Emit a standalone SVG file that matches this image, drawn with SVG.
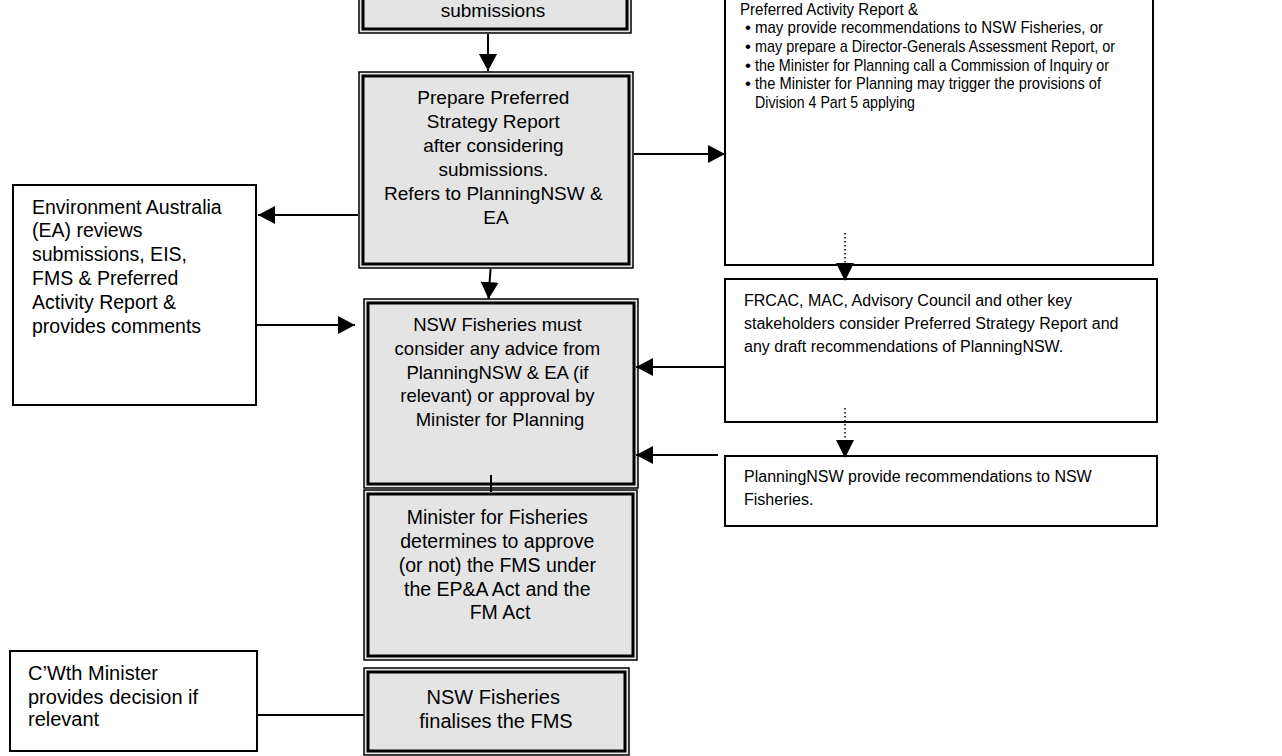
<svg xmlns="http://www.w3.org/2000/svg" width="1282" height="756" viewBox="0 0 1282 756">
<style>
  text { font-family: "Liberation Sans", Arial, sans-serif; fill: #000; }
  .outer { fill: #e4e4e4; stroke: #000; stroke-width: 1.5; }
  .inner { fill: none; stroke: #000; stroke-width: 3; }
  .plain { fill: #fff; stroke: #000; stroke-width: 2; }
  .c { text-anchor: middle; }
  .conn { stroke: #000; stroke-width: 2; fill: none; }
  .dot { stroke: #000; stroke-width: 1.5; fill: none; stroke-dasharray: 1.5 2.5; }
</style>
<defs>
  <marker id="ah" markerUnits="userSpaceOnUse" markerWidth="17" markerHeight="18" refX="17" refY="9" orient="auto">
    <path d="M0,0 L17,9 L0,18 Z" fill="#000"/>
  </marker>
</defs>

<g id="node-top">
  <rect class="outer" x="359" y="-10" width="272" height="43"/>
  <rect class="inner" x="363" y="-6" width="264" height="35"/>
  <text class="c" x="493" y="17" font-size="19">submissions</text>
</g>

<g id="node-prepare">
  <rect class="outer" x="359" y="72" width="274" height="196"/>
  <rect class="inner" x="363" y="76" width="266" height="188"/>
  <text class="c" font-size="19">
    <tspan x="496" y="104">Prepare Preferred</tspan>
    <tspan x="496" y="128">Strategy Report</tspan>
    <tspan x="496" y="152">after considering</tspan>
    <tspan x="496" y="176">submissions.</tspan>
    <tspan x="496" y="200">Refers to PlanningNSW  &amp;</tspan>
    <tspan x="496" y="224">EA</tspan>
  </text>
</g>

<g id="node-planning-report">
  <rect class="plain" x="725" y="-10" width="428" height="275"/>
  <g font-size="17">
    <text x="740" y="14.5" textLength="178" lengthAdjust="spacingAndGlyphs">Preferred Activity Report &amp;</text>
    <text x="745" y="33">•</text>
    <text x="755" y="33" textLength="348" lengthAdjust="spacingAndGlyphs">may provide recommendations to NSW Fisheries, or</text>
    <text x="745" y="51.5">•</text>
    <text x="755" y="51.5" textLength="360" lengthAdjust="spacingAndGlyphs">may prepare a Director-Generals Assessment Report, or</text>
    <text x="745" y="70.5">•</text>
    <text x="755" y="70.5" textLength="354" lengthAdjust="spacingAndGlyphs">the Minister for Planning call a Commission of Inquiry or</text>
    <text x="745" y="89">•</text>
    <text x="755" y="89" textLength="346" lengthAdjust="spacingAndGlyphs">the Minister for Planning may trigger the provisions of</text>
    <text x="755" y="107.5" textLength="160" lengthAdjust="spacingAndGlyphs">Division 4 Part 5 applying</text>
  </g>
</g>

<g id="node-ea">
  <rect class="plain" x="13" y="185" width="243" height="220"/>
  <text font-size="19.5">
    <tspan x="32" y="214">Environment Australia</tspan>
    <tspan x="32" y="237">(EA) reviews</tspan>
    <tspan x="32" y="261">submissions, EIS,</tspan>
    <tspan x="32" y="285">FMS &amp; Preferred</tspan>
    <tspan x="32" y="309">Activity Report &amp;</tspan>
    <tspan x="32" y="333">provides comments</tspan>
  </text>
</g>

<g id="node-consider">
  <rect class="outer" x="364" y="299" width="274" height="189"/>
  <rect class="inner" x="368" y="303" width="266" height="181"/>
  <text class="c" font-size="18.5">
    <tspan x="500" y="331">NSW Fisheries must</tspan>
    <tspan x="500" y="355">consider any advice from</tspan>
    <tspan x="500" y="379">PlanningNSW &amp; EA (if</tspan>
    <tspan x="500" y="402">relevant) or approval by</tspan>
    <tspan x="500" y="426">Minister for Planning</tspan>
  </text>
</g>

<g id="node-frcac">
  <rect class="plain" x="725" y="279" width="432" height="143"/>
  <text font-size="16">
    <tspan x="744" y="306">FRCAC, MAC, Advisory Council and other key</tspan>
    <tspan x="744" y="329">stakeholders consider Preferred Strategy Report and</tspan>
    <tspan x="744" y="352">any draft recommendations of PlanningNSW.</tspan>
  </text>
</g>

<g id="node-planningnsw">
  <rect class="plain" x="725" y="456" width="432" height="70"/>
  <text font-size="16">
    <tspan x="744" y="482">PlanningNSW provide recommendations to NSW</tspan>
    <tspan x="744" y="505">Fisheries.</tspan>
  </text>
</g>

<g id="node-minister">
  <rect class="outer" x="364" y="490" width="273" height="170"/>
  <rect class="inner" x="368" y="494" width="265" height="162"/>
  <text class="c" font-size="19.5">
    <tspan x="500" y="524">Minister for Fisheries</tspan>
    <tspan x="500" y="548">determines to approve</tspan>
    <tspan x="500" y="572">(or not) the FMS under</tspan>
    <tspan x="500" y="596">the EP&amp;A Act and the</tspan>
    <tspan x="500" y="619">FM Act</tspan>
  </text>
</g>

<g id="node-finalise">
  <rect class="outer" x="364" y="668" width="265" height="87"/>
  <rect class="inner" x="368" y="672" width="257" height="79"/>
  <text class="c" font-size="20">
    <tspan x="496" y="704">NSW Fisheries</tspan>
    <tspan x="496" y="728">finalises the FMS</tspan>
  </text>
</g>

<g id="node-cwth">
  <rect class="plain" x="10" y="651" width="247" height="100"/>
  <text font-size="20">
    <tspan x="28" y="680">C’Wth Minister</tspan>
    <tspan x="28" y="704">provides decision if</tspan>
    <tspan x="28" y="726">relevant</tspan>
  </text>
</g>

<g id="connectors">
  <line class="conn" x1="488" y1="34" x2="488" y2="71" marker-end="url(#ah)"/>
  <line class="conn" x1="634" y1="154" x2="725" y2="154" marker-end="url(#ah)"/>
  <line class="conn" x1="358" y1="215" x2="258" y2="215" marker-end="url(#ah)"/>
  <line class="conn" x1="257" y1="325" x2="355" y2="325" marker-end="url(#ah)"/>
  <line class="conn" x1="490.5" y1="269" x2="488.5" y2="299" marker-end="url(#ah)"/>
  <line class="dot" x1="845" y1="233" x2="845" y2="264"/>
  <path d="M836,263 L854,263 L845,281 Z" fill="#000"/>
  <line class="conn" x1="724" y1="367" x2="636" y2="367" marker-end="url(#ah)"/>
  <line class="dot" x1="845" y1="408" x2="845" y2="441"/>
  <path d="M836,440 L854,440 L845,458 Z" fill="#000"/>
  <line class="conn" x1="718" y1="455" x2="636" y2="455" marker-end="url(#ah)"/>
  <line class="conn" x1="491" y1="475" x2="491" y2="492"/>
  <line class="conn" x1="258" y1="715" x2="364" y2="715"/>
</g>
</svg>
